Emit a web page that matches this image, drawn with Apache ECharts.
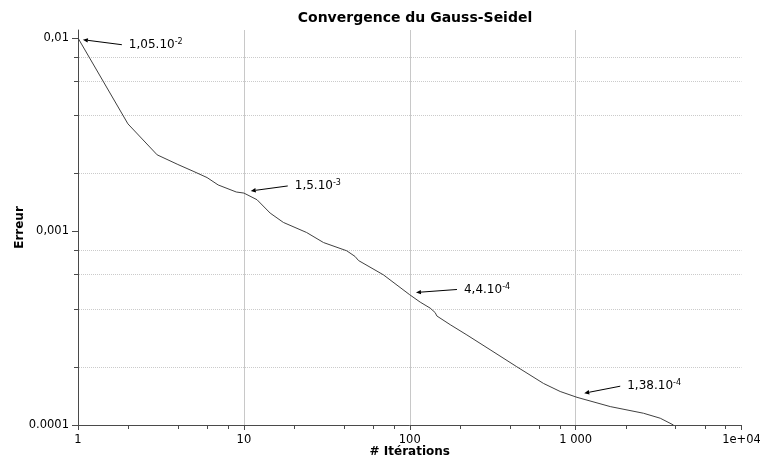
<!DOCTYPE html>
<html><head><meta charset="utf-8">
<script src="https://cdn.jsdelivr.net/npm/echarts@6/dist/echarts.min.js"></script>
<style>html,body{margin:0;padding:0;background:#fff}#c{width:760px;height:463px}</style>
</head><body><div id="c"></div>
<script>
// ---- data ----
const iterations = [1, 2, 3, 4, 5, 6, 7, 9, 10, 12, 14.4, 17.3, 23.9, 30.2, 41.7, 46.8, 49.1, 69.4, 100, 115.6, 132.7, 142.3, 145.7, 175.3, 221, 305, 442, 640, 807, 1019, 1617, 2567, 3237, 3890];
const errors = [0.01, 0.0036, 0.00249, 0.00222, 0.00204, 0.0019, 0.00174, 0.0016, 0.00158, 0.00146, 0.001245, 0.001114, 0.000988, 0.000877, 0.000795, 0.000743, 0.000708, 0.000597, 0.000471, 0.0004315, 0.000402, 0.000381, 0.000366, 0.00033, 0.000292, 0.000245, 0.0002, 0.000164, 0.000149, 0.000139, 0.0001245, 0.000115, 0.0001084, 0.0001];
const xMinorTicks = [2, 4, 6, 8, 20, 40, 60, 80, 200, 400, 600, 800, 2000, 4000, 6000, 8000];
const yMajorTicks = [0.0001, 0.001, 0.01];
const yMinorTicks = [0.0002, 0.0004, 0.0006, 0.0008, 0.002, 0.004, 0.006, 0.008];
const xTickLabels = ['1', '10', '100', '1 000', '1e+04'];
const yTickLabels = {'-4': '0.0001', '-3': '0,001', '-2': '0,01'};
const annotationX = [1.07, 11.0, 109, 1127];
const annotationY = [0.0098, 0.00162, 0.000484, 0.000146];
const annotationMantissa = ['1,05', '1,5', '4,4', '1,38'];
const annotationExponent = ['-2', '-3', '-4', '-4'];
const titleText = 'Convergence du Gauss-Seidel';
const xName = '# Itérations';
const yName = 'Erreur';

// ---- style / layout ----
const annotationTail = [[39, 5], [37, -5], [41, -3], [36, -7]];
const FONT = '"DejaVu Sans", Verdana, sans-serif';
const axisLineColor = '#4a4a4a';

const chart = echarts.init(document.getElementById('c'), null, {renderer: 'canvas'});

chart.setOption({
  animation: false,
  backgroundColor: '#fff',
  title: {
    text: titleText, left: 410, top: 6, textAlign: 'center',
    textStyle: {fontFamily: FONT, fontSize: 14, fontWeight: 'bold', color: '#000'}
  },
  grid: {left: 78, right: 18.5, top: 30, bottom: 38, containLabel: false, outerBoundsMode: 'none'},
  xAxis: {
    type: 'log', logBase: 10, min: 1, max: 10000, position: 'bottom',
    name: xName, nameLocation: 'middle', nameGap: 21, nameMoveOverlap: false,
    nameTextStyle: {fontFamily: FONT, fontSize: 12, fontWeight: 'bold', color: '#000'},
    axisLine: {show: true, lineStyle: {color: axisLineColor, width: 1}},
    axisTick: {show: true, length: 5, lineStyle: {color: axisLineColor}},
    axisLabel: {fontFamily: FONT, fontSize: 11.5, color: '#000', margin: 9,
      formatter: v => xTickLabels[Math.round(Math.log10(v))]},
    splitLine: {show: true, showMinLine: false, showMaxLine: false, lineStyle: {color: '#c8c8c8', width: 1}},
    minorTick: {show: false}, minorSplitLine: {show: false}
  },
  yAxis: {
    type: 'log', logBase: 10, min: 0.0001, max: 0.011, position: 'left',
    name: yName, nameLocation: 'middle', nameGap: 52, nameMoveOverlap: false,
    nameTextStyle: {fontFamily: FONT, fontSize: 12, fontWeight: 'bold', color: '#000'},
    axisLine: {show: true, lineStyle: {color: axisLineColor, width: 1}},
    axisTick: {show: true, length: 6, customValues: yMajorTicks, lineStyle: {color: axisLineColor}},
    axisLabel: {fontFamily: FONT, fontSize: 11.5, color: '#000', margin: 9, customValues: yMajorTicks,
      formatter: v => yTickLabels[String(Math.round(Math.log10(v)))] || ''},
    splitLine: {show: false}
  },
  series: [{
    type: 'line',
    data: iterations.map((x, i) => [x, errors[i]]),
    showSymbol: false, symbol: 'none', smooth: false,
    lineStyle: {color: '#404040', width: 1},
    z: 3
  }]
});

const g = [];
const grid = chart.getModel().getComponent('grid').coordinateSystem.getRect();
// dotted minor horizontal grid lines and minor ticks (positions from the axis scales)
yMinorTicks.forEach(v => {
  const py = Math.round(chart.convertToPixel({yAxisIndex: 0}, v)) + 0.5;
  g.push({type: 'line', z: 1, silent: true,
    shape: {x1: grid.x + 1, y1: py, x2: grid.x + grid.width, y2: py},
    style: {stroke: '#cbcbcb', lineWidth: 1, lineDash: [1, 1]}});
  g.push({type: 'line', z: 1, silent: true,
    shape: {x1: grid.x - 4, y1: py, x2: grid.x, y2: py},
    style: {stroke: axisLineColor, lineWidth: 1}});
});
xMinorTicks.forEach(v => {
  const px = Math.round(chart.convertToPixel({xAxisIndex: 0}, v)) + 0.5;
  const by = grid.y + grid.height;
  g.push({type: 'line', z: 1, silent: true,
    shape: {x1: px, y1: by, x2: px, y2: by + 4},
    style: {stroke: axisLineColor, lineWidth: 1}});
});

// annotations with arrows
for (let i = 0; i < annotationX.length; i++) {
  const tip = chart.convertToPixel({xAxisIndex: 0, yAxisIndex: 0}, [annotationX[i], annotationY[i]]);
  const tail = [tip[0] + annotationTail[i][0], tip[1] + annotationTail[i][1]];
  const dx = tip[0] - tail[0], dy = tip[1] - tail[1];
  const len = Math.hypot(dx, dy);
  const ux = dx / len, uy = dy / len;
  const hl = 5, hw = 2.2;
  const base = [tip[0] - ux * hl, tip[1] - uy * hl];
  g.push({type: 'line', shape: {x1: tail[0], y1: tail[1], x2: base[0], y2: base[1]},
    style: {stroke: '#000', lineWidth: 1}, z: 10});
  g.push({type: 'polygon', shape: {points: [tip, [base[0] - uy * hw, base[1] + ux * hw], [base[0] + uy * hw, base[1] - ux * hw]]},
    style: {fill: '#000'}, z: 10});
  g.push({type: 'text', x: tail[0] + 7, y: tail[1], z: 10,
    style: {
      text: '{a|' + annotationMantissa[i] + '.10}{s|' + annotationExponent[i] + '}',
      verticalAlign: 'middle', align: 'left',
      rich: {
        a: {fontFamily: FONT, fontSize: 12, fill: '#000', color: '#000', lineHeight: 14},
        s: {fontFamily: FONT, fontSize: 8, fill: '#000', color: '#000', verticalAlign: 'top', lineHeight: 14, padding: [0, 0, 6, 0]}
      }
    }});
}
chart.setOption({graphic: g});
</script>
</body></html>
